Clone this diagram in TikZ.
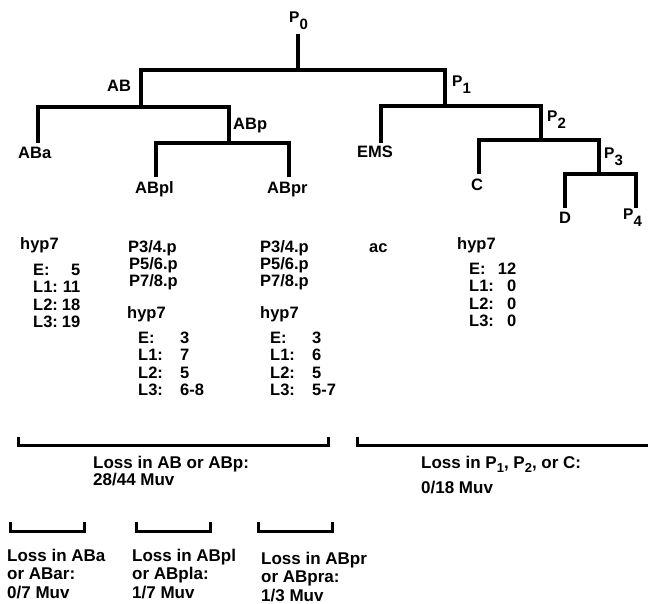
\documentclass[tikz,border=0pt]{standalone}
\usepackage{fontspec}
\setmainfont{Liberation Sans}
\newcommand\mypsub[1]{\raisebox{-7pt}{\fontsize{15}{15}\selectfont #1}}
\newcommand\mybsub[1]{\raisebox{-4.5pt}{\fontsize{13}{13}\selectfont #1}}
\begin{document}
\begin{tikzpicture}[x=1pt,y=-1pt,
  tree/.style={line width=3.4pt, line join=miter},
  brk/.style={line width=3pt, line join=miter},
  lab/.style={inner sep=0pt, anchor=base west, font=\bfseries\fontsize{16.5}{17.6}\selectfont},
  plab/.style={inner sep=0pt, anchor=base west, font=\bfseries\fontsize{15.5}{15}\selectfont},
  big/.style={inner sep=0pt, anchor=base west, font=\bfseries\fontsize{17}{18.5}\selectfont}]
\useasboundingbox[fill=white] (0,0) rectangle (648,604);

% tree coordinates
\coordinate (p0s) at (298,34);
\coordinate (j0) at (298,70);
\coordinate (jab) at (141,107);
\coordinate (jp1) at (445,106);
\coordinate (aba) at (38,143);
\coordinate (jabp) at (229,143);
\coordinate (abpl) at (156,177);
\coordinate (abpr) at (289,177);
\coordinate (ems) at (381,143);
\coordinate (jp2) at (541,140);
\coordinate (cc) at (479,174);
\coordinate (jp3) at (599,174);
\coordinate (dd) at (565,208);
\coordinate (p4) at (636,208);

\draw[tree] (p0s) -- (j0);
\draw[tree] (jab) |- (j0) -| (jp1);
\draw[tree] (aba) |- (jab) -| (jabp);
\draw[tree] (abpl) |- (jabp) -| (abpr);
\draw[tree] (ems) |- (jp1) -| (jp2);
\draw[tree] (cc) |- (jp2) -| (jp3);
\draw[tree] (dd) |- (jp3) -| (p4);

% tree labels
\node[plab] (P0) at (289,23) {P\mypsub{0}};
\node[plab] (P1) at (452,87) {P\mypsub{1}};
\node[plab] (P2) at (547,122) {P\mypsub{2}};
\node[plab] (P3) at (604,159) {P\mypsub{3}};
\node[plab] (P4) at (623,220) {P\mypsub{4}};
\node[lab] (AB) at (107,92) {AB};
\node[lab] (ABp) at (233,130) {ABp};
\node[lab] (ABa) at (18,159) {ABa};
\node[lab] (ABpl) at (135,194) {ABpl};
\node[lab] (ABpr) at (267,194) {ABpr};
\node[lab] (EMS) at (357,158) {EMS};
\node[lab] (C) at (471,191) {C};
\node[lab] (D) at (559,224) {D};

% column 1
\node[lab] (h1) at (20,250) {hyp7};
\node[lab] (v1) at (33,275) {\begin{tabular}[t]{@{}l@{\hspace{4pt}}r@{}}E:&5\\L1:&11\\L2:&18\\L3:&19\end{tabular}};

% column 2
\node[lab] (q2) at (128,253) {\fontsize{16.5}{16.5}\selectfont\begin{tabular}[t]{@{}l@{}}P3/4.p\\\hspace{1pt}P5/6.p\\\hspace{1pt}P7/8.p\end{tabular}};
\node[lab] (h2) at (127,318) {hyp7};
\node[lab] (v2) at (138,343) {\begin{tabular}[t]{@{}l@{}}\makebox[42pt][l]{E:}3\\\makebox[42pt][l]{L1:}7\\\makebox[42pt][l]{L2:}5\\\makebox[42pt][l]{L3:}6-8\end{tabular}};

% column 3
\node[lab] (q3) at (260,253) {\fontsize{16.5}{16.5}\selectfont\begin{tabular}[t]{@{}l@{}}P3/4.p\\P5/6.p\\P7/8.p\end{tabular}};
\node[lab] (h3) at (260,318) {hyp7};
\node[lab] (v3) at (270,343) {\begin{tabular}[t]{@{}l@{}}\makebox[42pt][l]{E:}3\\\makebox[42pt][l]{L1:}6\\\makebox[42pt][l]{L2:}5\\\makebox[42pt][l]{L3:}5-7\end{tabular}};

% column 4
\node[lab] (ac) at (369,252) {ac};
\node[lab] (h4) at (457,250) {hyp7};
\node[lab] (v4) at (469,274) {\begin{tabular}[t]{@{}l@{\hspace{4pt}}r@{}}E:&12\\L1:&0\\L2:&0\\L3:&0\end{tabular}};

% brackets
\coordinate (b1a) at (18,437);
\coordinate (b1r) at (328,445);
\coordinate (b1b) at (328,437);
\draw[brk] (b1a) |- (b1r) -- (b1b);
\coordinate (b2a) at (357,437);
\coordinate (b2r) at (648,445);
\draw[brk] (b2a) |- (b2r);
\coordinate (s1a) at (10,522);
\coordinate (s1r) at (84,531);
\coordinate (s1b) at (84,522);
\draw[brk] (s1a) |- (s1r) -- (s1b);
\coordinate (s2a) at (136,522);
\coordinate (s2r) at (210,531);
\coordinate (s2b) at (210,522);
\draw[brk] (s2a) |- (s2r) -- (s2b);
\coordinate (s3a) at (258,522);
\coordinate (s3r) at (332,531);
\coordinate (s3b) at (332,522);
\draw[brk] (s3a) |- (s3r) -- (s3b);

% bottom texts
\node[big] (t1) at (93,468) {\begin{tabular}[t]{@{}l@{}}Loss in AB or ABp:\\[-1.5pt]28/44 Muv\end{tabular}};
\node[big] (t2) at (421,468) {\begin{tabular}[t]{@{}l@{}}Loss in P\mybsub{1}, P\mybsub{2}, or C:\\[6.5pt]0/18 Muv\end{tabular}};
\node[big] (t3) at (7,561) {\begin{tabular}[t]{@{}l@{}}Loss in ABa\\or ABar:\\0/7 Muv\end{tabular}};
\node[big] (t4) at (132,561) {\begin{tabular}[t]{@{}l@{}}Loss in ABpl\\or ABpla:\\1/7 Muv\end{tabular}};
\node[big] (t5) at (261,564) {\begin{tabular}[t]{@{}l@{}}Loss in ABpr\\or ABpra:\\1/3 Muv\end{tabular}};
\end{tikzpicture}
\end{document}
